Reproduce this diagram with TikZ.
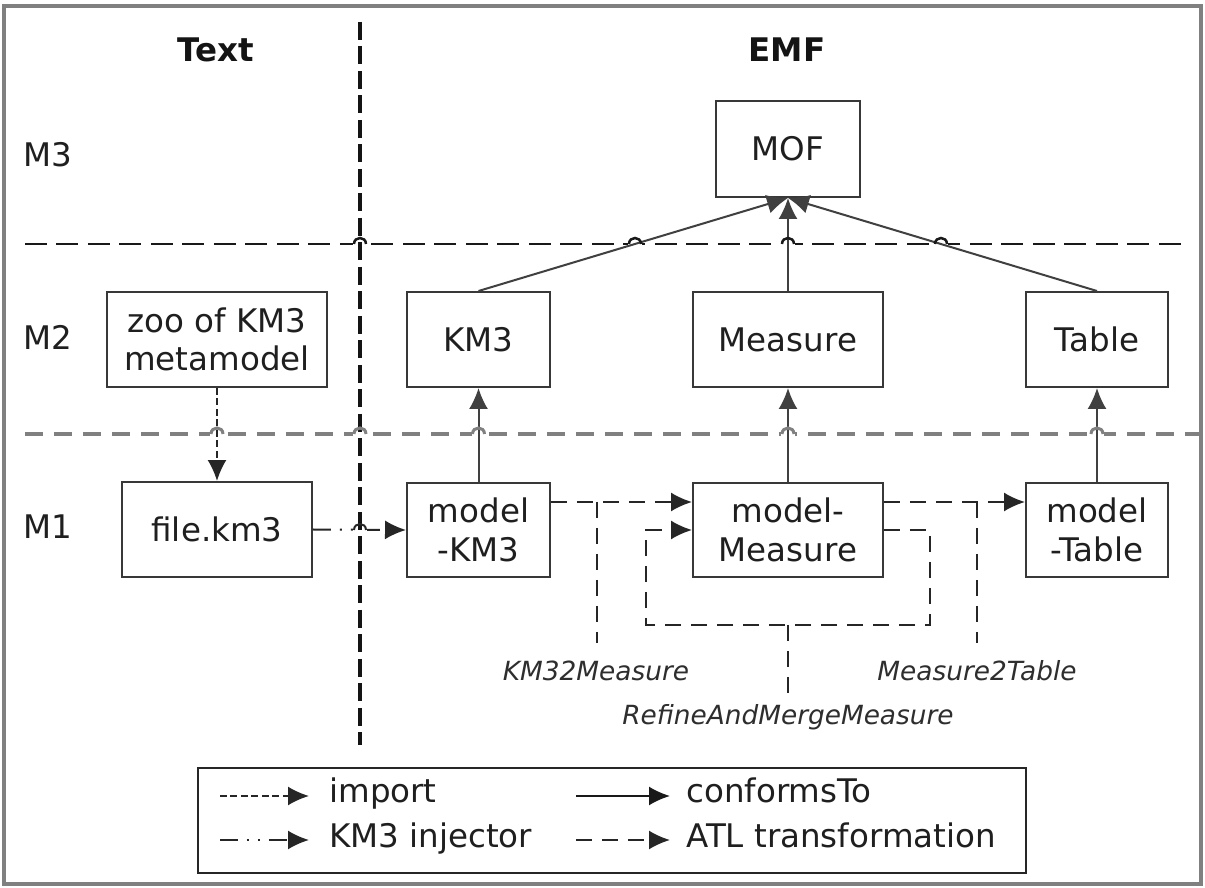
\documentclass[tikz,border=0pt]{standalone}
\usepackage{fontspec}
\setmainfont{DejaVu Sans}
\usetikzlibrary{arrows.meta}
\begin{document}
\begin{tikzpicture}[x=0.02cm,y=-0.02cm,
  box/.style={draw=black!78, line width=0.4mm, fill=white, inner sep=0pt, align=center,
    font=\fontsize{18.5}{22}\selectfont, text=black!88, minimum height=1.9cm},
  hdr/.style={inner sep=0pt, font=\fontsize{18.5}{22}\selectfont\bfseries, text=black!92},
  lvl/.style={inner sep=0pt, font=\fontsize{18.5}{22}\selectfont, text=black!88},
  lbl/.style={inner sep=0pt, font=\fontsize{15}{18}\selectfont\itshape, text=black!82},
  legtxt/.style={inner sep=0pt, anchor=base west, font=\fontsize{18.5}{22}\selectfont, text=black!88},
  tip/.style={-{Latex[length=4.2mm,width=3.8mm]}},
  conf/.style={draw=black!75, line width=0.4mm, tip},
  atlline/.style={draw=black!85, line width=0.4mm, dash pattern=on 3.2mm off 2mm},
  atl/.style={atlline, tip},
  imp/.style={draw=black!85, line width=0.4mm, dash pattern=on 1.4mm off 0.7mm, tip},
  inj/.style={draw=black!85, line width=0.4mm, dash pattern=on 3.6mm off 1.8mm on 0.4mm off 1.8mm on 0.4mm off 1.8mm, tip},
  sepblack/.style={draw=black!90, line width=0.5mm, dash pattern=on 4.4mm off 1.9mm},
  sepgray/.style={draw=black!50, line width=0.65mm, dash pattern=on 3.6mm off 2.2mm},
  sepvert/.style={draw=black!92, line width=0.7mm, dash pattern=on 3.6mm off 1.3mm},
  frame/.style={draw=black!50, line width=0.8mm}
]
\useasboundingbox (0,0) rectangle (1205,888);
\fill[white] (0,0) rectangle (1205,888);
\draw[frame] (4,6) rectangle (1201,884);

% headers and levels
\node[hdr] (hText) at (216,50) {Text};
\node[hdr] (hEMF) at (787,50) {EMF};
\node[lvl] (m3) at (48,155) {M3};
\node[lvl] (m2) at (48,337) {M2};
\node[lvl] (m1) at (48,527) {M1};

% boxes
\node[box, minimum width=2.88cm, minimum height=1.92cm] (MOF) at (788,149) {MOF};
\node[box, minimum width=4.4cm] (zoo) at (217,339.5) {zoo of KM3\\metamodel};
\node[box, minimum width=2.86cm] (KM3) at (478.5,339.5) {KM3};
\node[box, minimum width=3.8cm] (Measure) at (788,339.5) {Measure};
\node[box, minimum width=2.84cm] (Table) at (1097,339.5) {Table};
\node[box, minimum width=3.8cm] (fileKM3) at (217,529.5) {file.km3};
\node[box, minimum width=2.86cm] (modelKM3) at (478.5,530) {model\\-KM3};
\node[box, minimum width=3.8cm] (modelMeasure) at (788,530) {model-\\Measure};
\node[box, minimum width=2.84cm] (modelTable) at (1097,530) {model\\-Table};

% transformation labels
\node[lbl] (lblKM32) at (596,671) {KM32Measure};
\node[lbl] (lblRM) at (788,717) {RefineAndMergeMeasure};
\node[lbl] (lblM2T) at (977,671) {Measure2Table};

% helper coordinates
\coordinate (atlY) at (0,502);
\coordinate (refY) at (0,530);
\coordinate (loopBR) at (930,625);
\coordinate (loopBL) at (646,625);
\coordinate (kmJ) at (597,502);
\coordinate (kmE) at (597,643);
\coordinate (rmJ) at (788,625);
\coordinate (rmE) at (788,697);
\coordinate (mtJ) at (977,502);
\coordinate (mtE) at (977,643);

% separators
\draw[sepblack] (25,244) -- (1190,244);
\draw[sepgray] (25,434) -- (1202,434);

% KM3 injector
\draw[inj] (fileKM3.east) -- (modelKM3.west);

% erasers for hops
\foreach \x in {360,635,788,941} \fill[white] (\x-7,240) rectangle (\x+7,248);
\foreach \x in {217,360,478.5,788,1097} \fill[white] (\x-7,430) rectangle (\x+7,438);
\fill[white] (353,527) rectangle (367,533);

% vertical separator
\draw[sepvert] (360,22) -- (360,745);

% conformsTo
\draw[conf] (KM3.north) -- (MOF.south);
\draw[conf] (Measure.north) -- (MOF.south);
\draw[conf] (Table.north) -- (MOF.south);
\draw[conf] (modelKM3.north) -- (KM3.south);
\draw[conf] (modelMeasure.north) -- (Measure.south);
\draw[conf] (modelTable.north) -- (Table.south);

% import
\draw[imp] (zoo.south) -- (fileKM3.north);

% ATL transformations
\draw[atl] (modelKM3.east |- atlY) -- (modelMeasure.west |- atlY);
\draw[atl] (modelMeasure.east |- atlY) -- (modelTable.west |- atlY);
\draw[atl] (modelMeasure.east |- refY) -| (loopBR) -- (loopBL) |- (modelMeasure.west |- refY);
\draw[atlline] (kmJ) -- (kmE);
\draw[atlline] (rmJ) -- (rmE);
\draw[atlline] (mtJ) -- (mtE);

% hops
\foreach \x in {360,635,788,941}
  \draw[draw=black!90, line width=0.5mm] (\x-6,244) .. controls (\x-6,236) and (\x+6,236) .. (\x+6,244);
\foreach \x in {217,360,478.5,788,1097}
  \draw[draw=black!50, line width=0.6mm] (\x-6,434) .. controls (\x-6,426) and (\x+6,426) .. (\x+6,434);
\draw[draw=black!85, line width=0.4mm] (354,530) .. controls (354,522) and (366,522) .. (366,530);

% legend
\node[draw=black!85, line width=0.5mm, minimum width=16.56cm, minimum height=2.1cm, inner sep=0pt] (legend) at (612,820.5) {};
\coordinate (l1a) at (220,796); \coordinate (l1b) at (309,796);
\coordinate (l2a) at (220,840); \coordinate (l2b) at (309,840);
\coordinate (l3a) at (576,796); \coordinate (l3b) at (670,796);
\coordinate (l4a) at (576,840); \coordinate (l4b) at (670,840);
\draw[imp] (l1a) -- (l1b);
\draw[inj] (l2a) -- (l2b);
\draw[conf, draw=black!90] (l3a) -- (l3b);
\draw[atl] (l4a) -- (l4b);
\node[legtxt] (tImp) at (329,803) {import};
\node[legtxt] (tInj) at (329,847) {KM3 injector};
\node[legtxt] (tConf) at (686,803) {conformsTo};
\node[legtxt] (tAtl) at (686,847) {ATL transformation};
\end{tikzpicture}
\end{document}
